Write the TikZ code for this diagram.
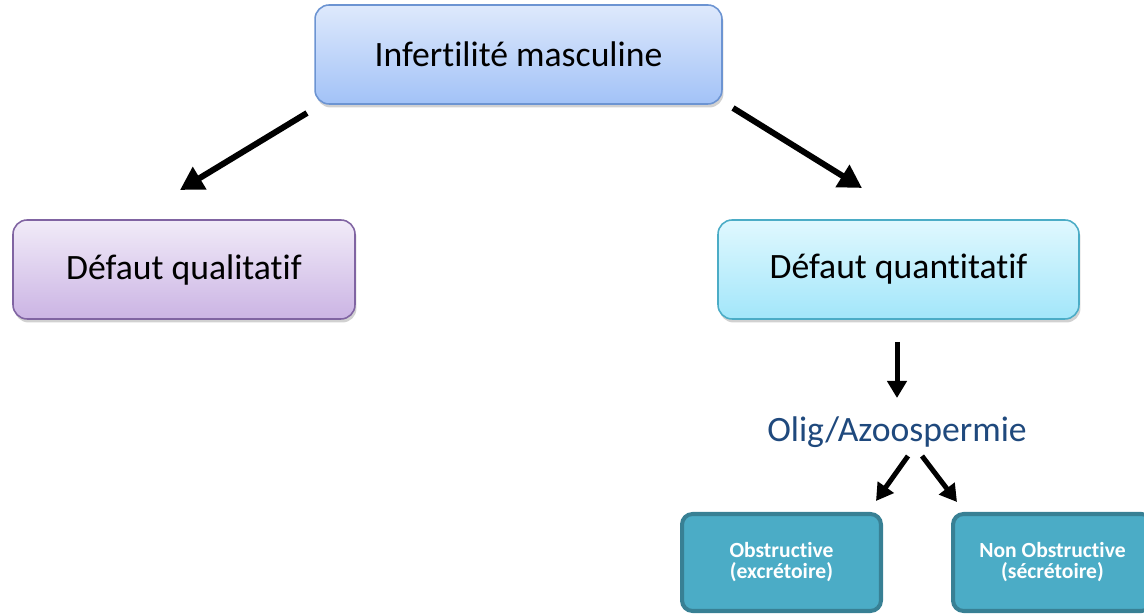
\documentclass[tikz,border=0pt]{standalone}
\usepackage{fontspec}
\setmainfont[Ligatures={NoCommon}]{Carlito}
\usetikzlibrary{positioning, arrows.meta, shadows}
\definecolor{infTop}{RGB}{222,233,252}
\definecolor{infBot}{RGB}{162,194,247}
\definecolor{infLine}{RGB}{108,148,210}
\definecolor{qualTop}{RGB}{241,235,248}
\definecolor{qualBot}{RGB}{203,180,228}
\definecolor{qualLine}{RGB}{128,100,162}
\definecolor{quanTop}{RGB}{224,248,254}
\definecolor{quanBot}{RGB}{162,230,250}
\definecolor{quanLine}{RGB}{75,172,198}
\definecolor{subFill}{RGB}{75,172,198}
\definecolor{subLine}{RGB}{56,128,148}
\definecolor{oligBlue}{RGB}{31,73,125}
\tikzset{
  % --- nodes ---
  topbox/.style   = {rounded corners=8pt, line width=0.9pt, align=center,
                     inner sep=0pt, minimum height=1.98cm,
                     font=\fontsize{20.3}{24}\selectfont,
                     drop shadow={shadow xshift=0.03cm, shadow yshift=-0.07cm,
                                  opacity=0.18, fill=black}},
  subbox/.style   = {rounded corners=6pt, line width=2.3pt, draw=subLine,
                     fill=subFill, text=white, align=center, inner sep=0pt,
                     minimum width=3.98cm, minimum height=1.94cm,
                     font=\fontsize{12.3}{12}\selectfont\bfseries},
  midtext/.style  = {text=oligBlue, inner sep=0pt,
                     font=\fontsize{20.3}{24}\selectfont},
  % --- edges ---
  bigarrow/.style = {-{Triangle[length=0.46cm, width=0.5cm]}, line width=0.12cm},
  smallarrow/.style = {-{Triangle[length=0.34cm, width=0.38cm]}, line width=0.1cm},
}
\begin{document}
\begin{tikzpicture}[x=0.02cm, y=-0.02cm]

  % ===================================================================
  %  FRAME
  % ===================================================================
  \clip (0,0) rectangle (1144,614);

  % ===================================================================
  %  BOXES
  % ===================================================================
  \node[topbox, draw=infLine, top color=infTop, bottom color=infBot,
        minimum width=8.14cm] (infert) at (518.5,54.5) {Infertilité masculine};
  \node[topbox, draw=qualLine, top color=qualTop, bottom color=qualBot,
        minimum width=6.84cm] (qualit) at (184,269.5) {Défaut qualitatif};
  \node[topbox, draw=quanLine, top color=quanTop, bottom color=quanBot,
        minimum width=7.22cm] (quantit) at (898.5,269.5) {Défaut quantitatif};

  \node[midtext, anchor=base] (oligo) at (897,442) {Olig/Azoospermie};

  \node[subbox] (obstr)    at (781.5,562.5) {Obstructive\\(excrétoire)};
  \node[subbox] (nonobstr) at (1052.5,562.5) {Non Obstructive\\(sécrétoire)};

  % ===================================================================
  %  ARROW ENDS
  % ===================================================================
  \coordinate (infL)  at (307,113);
  \coordinate (qualT) at (180,190);
  \coordinate (infR)  at (733,108);
  \coordinate (quanT) at (862,188);
  \coordinate (quanB) at (897,342);
  \coordinate (oligT) at (897,398);
  \coordinate (oligL) at (908,456);
  \coordinate (obsT)  at (876,501);
  \coordinate (oligR) at (922,456);
  \coordinate (nobT)  at (957,502);

  % ===================================================================
  %  ARROWS
  % ===================================================================
  \draw[bigarrow] (infL) -- (qualT);
  \draw[bigarrow] (infR) -- (quanT);
  \draw[smallarrow] (quanB) -- (oligT);
  \draw[smallarrow] (oligL) -- (obsT);
  \draw[smallarrow] (oligR) -- (nobT);

\end{tikzpicture}
\end{document}
